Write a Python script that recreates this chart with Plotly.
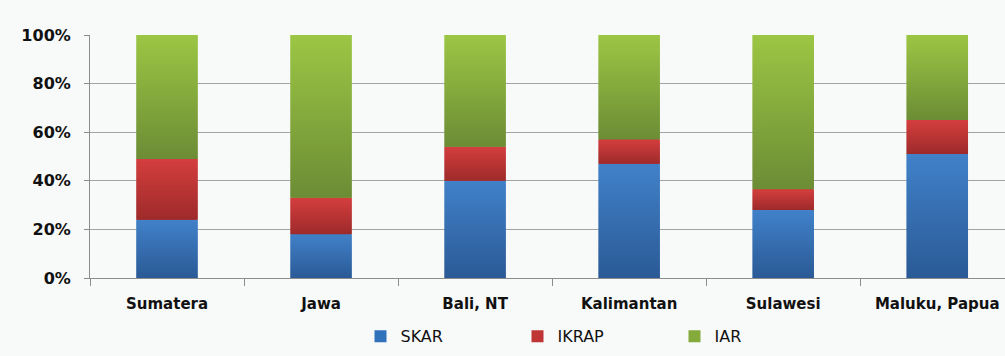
import plotly.graph_objects as go

regions = ["Sumatera", "Jawa", "Bali, NT", "Kalimantan", "Sulawesi", "Maluku, Papua"]
skar = [24, 18, 40, 47, 28, 51]
ikrap = [25, 15, 14, 10, 8.5, 14]
iar = [51, 67, 46, 43, 63.5, 35]

# name, values, flat colour (legend), gradient bottom, gradient top
series = [
    ("SKAR", skar, "#3272bb", "#2a5a96", "#4181c9"),
    ("IKRAP", ikrap, "#bf3434", "#9e2a2a", "#d43e3e"),
    ("IAR", iar, "#84aa3c", "#6c8c35", "#9cc644"),
]
bar_w = 0.4
x_range = [-0.5, 5.44]

fig = go.Figure()
for name, vals, color, _, _ in series:
    fig.add_trace(go.Bar(
        x=regions, y=vals, name=name,
        marker=dict(color=color, line=dict(width=0)),
        width=bar_w - 0.01, hoverinfo="skip",
    ))

# gradient overlay for each stacked segment (Excel-style shading)
totals = [sum(v) for v in zip(skar, ikrap, iar)]
base = [0.0] * len(regions)
for name, vals, color, dark, light in series:
    for i, v in enumerate(vals):
        b = base[i]
        t = b + v / totals[i] * 100
        fig.add_trace(go.Scatter(
            x=[i - bar_w / 2, i + bar_w / 2, i + bar_w / 2, i - bar_w / 2, i - bar_w / 2],
            y=[b, b, t, t, b],
            xaxis="x2", mode="lines", line=dict(width=0),
            fill="toself",
            fillgradient=dict(type="vertical", start=b, stop=t,
                              colorscale=[[0, dark], [1, light]]),
            showlegend=False, hoverinfo="skip",
        ))
        base[i] = t

fig.update_layout(
    barmode="stack",
    barnorm="percent",
    width=1005, height=356,
    margin=dict(l=90, r=0, t=35, b=78),
    paper_bgcolor="#f8f9f9",
    plot_bgcolor="#f8f9f9",
    font=dict(family="DejaVu Sans", size=14, color="#111111"),
    showlegend=True,
    legend=dict(
        orientation="h", x=0.553, xanchor="center", y=-0.17, yanchor="top",
        font=dict(family="DejaVu Sans", size=16, color="#111111"),
        traceorder="normal", entrywidth=112, entrywidthmode="pixels",
    ),
    xaxis=dict(
        range=x_range,
        showline=True, linecolor="#8c8c8c", linewidth=1,
        ticks="outside", ticklen=7, tickcolor="#8c8c8c",
        tickson="boundaries", showgrid=False,
        ticklabelstandoff=12,
        tickfont=dict(family="DejaVu Sans", size=15, color="#111111", weight="bold"),
    ),
    xaxis2=dict(overlaying="x", range=x_range, visible=False),
    yaxis=dict(
        range=[0, 100], dtick=20, ticksuffix="%",
        showgrid=True, gridcolor="#a3a3a3", gridwidth=1,
        showline=True, linecolor="#8c8c8c", linewidth=1,
        ticks="outside", ticklen=5, tickcolor="#8c8c8c",
        ticklabelstandoff=10,
        tickfont=dict(family="DejaVu Sans", size=16, color="#111111", weight="bold"),
        zeroline=False,
    ),
)

fig.write_html("out.html", config={"displayModeBar": False},
               post_script="document.body.style.margin='0';")
